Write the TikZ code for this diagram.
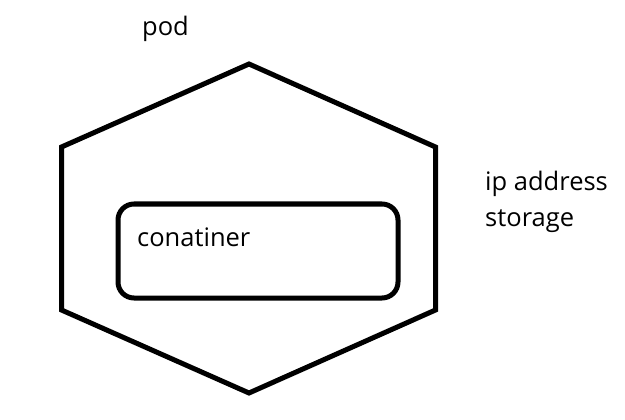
\documentclass[tikz,border=0pt]{standalone}
\usepackage{fontspec}
\setmainfont{Open Sans}
\begin{document}
\begin{tikzpicture}[x=1pt,y=-1pt,
  outline/.style={draw=black,line width=5pt,line join=miter},
  label/.style={font=\fontsize{25.5}{30}\selectfont,inner sep=0pt,anchor=base west}]
\useasboundingbox (0,0) rectangle (625,420);
\coordinate (t) at (249,64);
\coordinate (ur) at (435.5,147);
\coordinate (lr) at (435.5,310);
\coordinate (b) at (249,393);
\coordinate (ll) at (61.5,310);
\coordinate (ul) at (61.5,147);
\draw[outline] (t) -- (ur) -- (lr) -- (b) -- (ll) -- (ul) -- cycle;
\node[outline,rounded corners=16pt,minimum width=280pt,minimum height=94pt,anchor=north west] (container) at (115.5,201.5) {};
\node[label] (pod) at (142,36) {pod};
\node[label] (cont) at (137,247) {conatiner};
\node[label] (ip) at (485,190) {ip address};
\node[label] (st) at (485,226) {storage};
\end{tikzpicture}
\end{document}
